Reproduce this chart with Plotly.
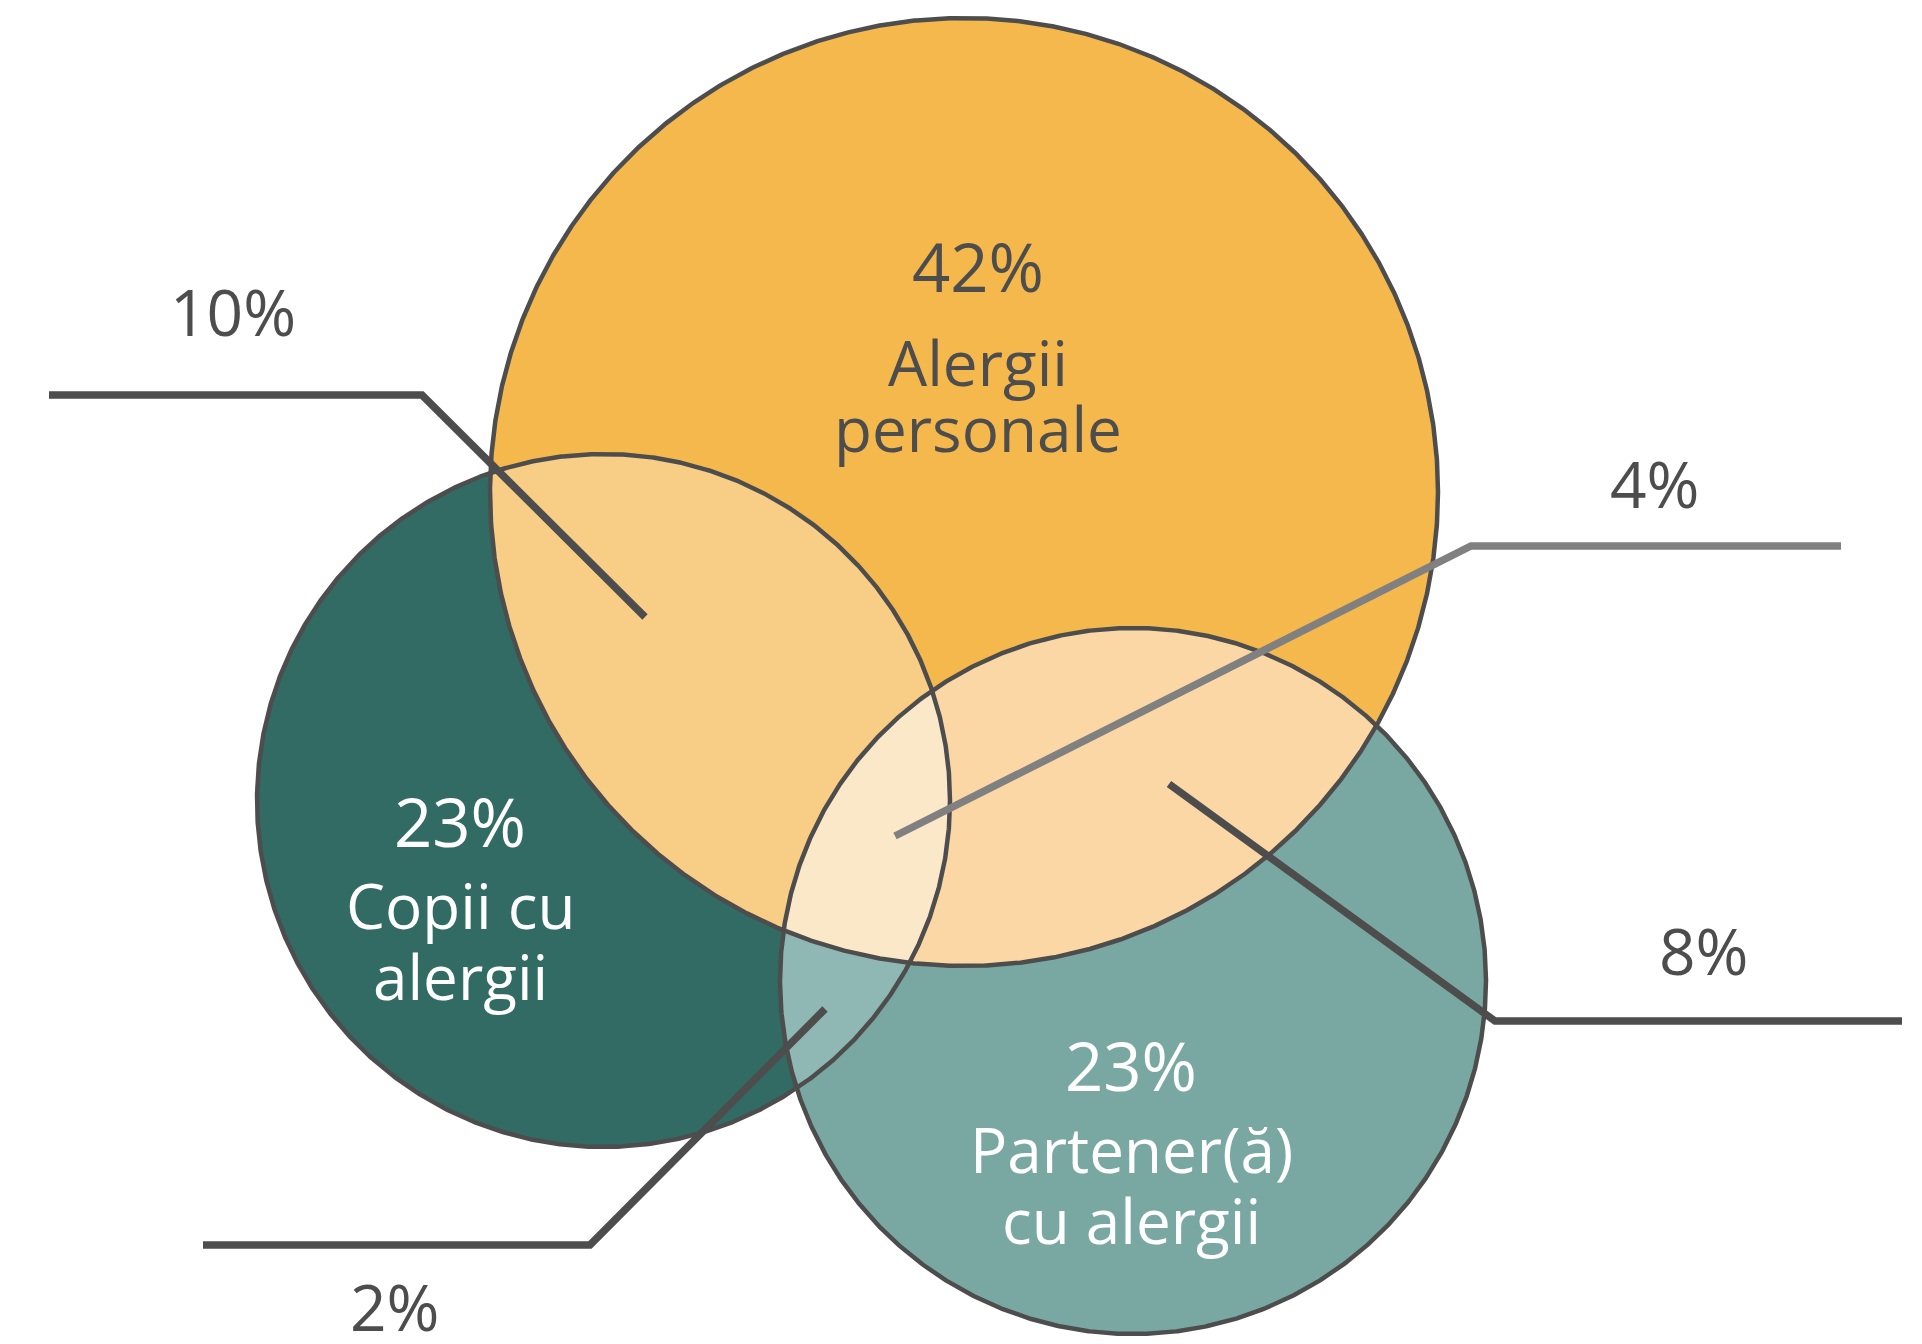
import numpy as np
import plotly.graph_objects as go

# ---------------- data ----------------
set_names = ["Alergii personale", "Copii cu alergii", "Partener(ă) cu alergii"]
set_pcts = [42, 23, 23]
set_label_lines = [["Alergii", "personale"], ["Copii cu", "alergii"], ["Partener(ă)", "cu alergii"]]

overlap_sets = [(0, 1), (0, 1, 2), (0, 2), (1, 2)]
overlap_pcts = [10, 4, 8, 2]

# ---------------- layout / style ----------------
W, H = 1922, 1344
PAD = 8  # default page margin of the html body
centers = [(964, 492), (603.5, 800.5), (1133, 981)]
radii = [474, 346.5, 353]
set_fill = ["#F4B84D", "#316B64", "#79A8A3"]
set_text_color = ["#4D4D4D", "#FFFFFF", "#FFFFFF"]
region_fill = {(1, 2): "#8FB8B4", (0, 1): "#F8CD85", (0, 2): "#FBD7A5", (0, 1, 2): "#FAE8C8"}
edge = "#4D4D4D"
FONT = "Open Sans"

# label anchor positions (pct line, then text lines)
set_label_pos = [(978, [266, 362, 428]), (460, [821, 905, 976]), (1131, [1065, 1149, 1220])]

# leader lines per overlap: polyline points, label position, colour
leader_pts = [
    [(645, 617), (422, 395), (49, 395)],
    [(895, 836), (1471, 546), (1841, 546)],
    [(1169, 784), (1495, 1021), (1902, 1021)],
    [(825, 1009), (590, 1245), (203, 1245)],
]
leader_label = [(233, 311), (1655, 483), (1704, 950), (395, 1306)]
leader_color = ["#4D4D4D", "#808080", "#4D4D4D", "#4D4D4D"]


def circle_xy(i, n=1441):
    t = np.linspace(0, 2 * np.pi, n)
    cx, cy = centers[i]
    return cx + radii[i] * np.cos(t), cy + radii[i] * np.sin(t)


def region_poly(idx):
    xs, ys = [], []
    for i in idx:
        x, y = circle_xy(i, 2881)
        m = np.ones_like(x, dtype=bool)
        for j in idx:
            if j == i:
                continue
            cx, cy = centers[j]
            m &= (x - cx) ** 2 + (y - cy) ** 2 <= radii[j] ** 2 + 1e-6
        xs.append(x[m]); ys.append(y[m])
    x = np.concatenate(xs); y = np.concatenate(ys)
    mx, my = x.mean(), y.mean()
    order = np.argsort(np.arctan2(y - my, x - mx))
    x, y = x[order], y[order]
    return np.append(x, x[0]), np.append(y, y[0])


fig = go.Figure()

# full circles
for i in range(3):
    x, y = circle_xy(i)
    fig.add_trace(go.Scatter(x=x, y=y, mode="lines", fill="toself", fillcolor=set_fill[i],
                             line=dict(width=0), hoverinfo="skip", showlegend=False))

# overlap regions
for key in [(1, 2), (0, 1), (0, 2), (0, 1, 2)]:
    x, y = region_poly(key)
    fig.add_trace(go.Scatter(x=x, y=y, mode="lines", fill="toself", fillcolor=region_fill[key],
                             line=dict(width=0), hoverinfo="skip", showlegend=False))

# outlines
for i in range(3):
    x, y = circle_xy(i)
    fig.add_trace(go.Scatter(x=x, y=y, mode="lines", line=dict(color=edge, width=4.5),
                             hoverinfo="skip", showlegend=False))

# leader lines
for k in range(len(overlap_pcts)):
    pts = leader_pts[k]
    fig.add_trace(go.Scatter(x=[p[0] for p in pts], y=[p[1] for p in pts], mode="lines",
                             line=dict(color=leader_color[k], width=7.5), hoverinfo="skip",
                             showlegend=False))

annotations = []
for k, v in enumerate(overlap_pcts):
    lx, ly = leader_label[k]
    annotations.append(dict(x=lx, y=ly, text=f"{v}%", showarrow=False, xanchor="center",
                            yanchor="middle", font=dict(family=FONT, size=64, color="#4D4D4D")))

for i, v in enumerate(set_pcts):
    lx, ys = set_label_pos[i]
    annotations.append(dict(x=lx, y=ys[0], text=f"{v}%", showarrow=False, xanchor="center",
                            yanchor="middle", font=dict(family=FONT, size=67, color=set_text_color[i])))
    for line, yy in zip(set_label_lines[i], ys[1:]):
        annotations.append(dict(x=lx, y=yy, text=line, showarrow=False, xanchor="center",
                                yanchor="middle", font=dict(family=FONT, size=62, color=set_text_color[i])))

fig.update_layout(
    width=W - 2 * PAD, height=H - 2 * PAD, margin=dict(l=0, r=0, t=0, b=0),
    paper_bgcolor="white", plot_bgcolor="white",
    xaxis=dict(range=[PAD, W - PAD], visible=False, fixedrange=True),
    yaxis=dict(range=[H - PAD, PAD], visible=False, fixedrange=True),
    annotations=annotations,
)

fig.write_html("out.html")
